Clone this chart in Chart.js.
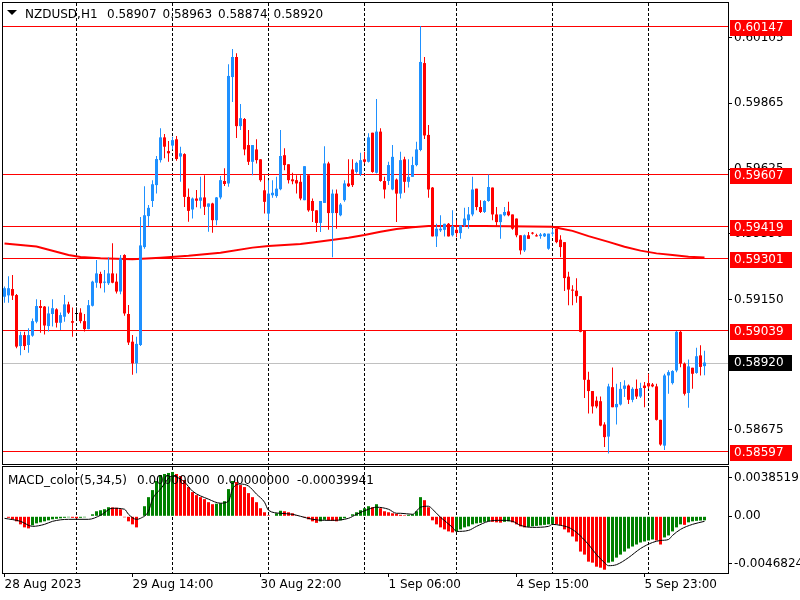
<!DOCTYPE html>
<html lang="en">
<head>
<meta charset="utf-8" />
<title>NZDUSD,H1</title>
<script src="https://cdn.jsdelivr.net/npm/chart.js@4.4.0/dist/chart.umd.min.js"></script>
<style>
    body { margin: 0; background: #fff; }
    #wrap { position: relative; width: 800px; height: 600px; overflow: hidden; }
    canvas { position: absolute; left: 0; }
    #chart-price { top: 0; }
    #chart-macd { top: 465px; }
</style>
</head>
<body>
<div id="wrap">
    <canvas id="chart-price" width="800" height="465"></canvas>
    <canvas id="chart-macd" width="800" height="135"></canvas>
</div>
<script>
// ---- data (H1 bars, 28 Aug 06:00 .. 6 Sep 13:00) ----
const symbol = 'NZDUSD,H1';

const opens = [
    0.59160, 0.59165, 0.59188, 0.59166, 0.58980, 0.59020, 0.58984, 0.59018, 0.59069, 0.59126,
    0.59124, 0.59053, 0.59097, 0.59114, 0.59065, 0.59087, 0.59132, 0.59071, 0.59097, 0.59102,
    0.59071, 0.59042, 0.59127, 0.59211, 0.59243, 0.59211, 0.59209, 0.59245, 0.59215, 0.59179,
    0.59312, 0.59097, 0.58996, 0.58917, 0.58984, 0.59341, 0.59454, 0.59509, 0.59567, 0.59658,
    0.59741, 0.59691, 0.59711, 0.59734, 0.59671, 0.59680, 0.59524, 0.59478, 0.59518, 0.59510,
    0.59522, 0.59488, 0.59500, 0.59439, 0.59522, 0.59582, 0.59573, 0.59961, 0.60034, 0.59782,
    0.59808, 0.59713, 0.59652, 0.59697, 0.59661, 0.59548, 0.59463, 0.59530, 0.59527, 0.59552,
    0.59676, 0.59643, 0.59588, 0.59585, 0.59579, 0.59512, 0.59603, 0.59509, 0.59475, 0.59429,
    0.59502, 0.59646, 0.59465, 0.59536, 0.59457, 0.59512, 0.59573, 0.59624, 0.59615, 0.59607,
    0.59661, 0.59652, 0.59758, 0.59612, 0.59762, 0.59582, 0.59582, 0.59551, 0.59587, 0.59536,
    0.59661, 0.59579, 0.59597, 0.59640, 0.59695, 0.60012, 0.59750, 0.59558, 0.59380, 0.59402,
    0.59404, 0.59426, 0.59384, 0.59404, 0.59392, 0.59420, 0.59439, 0.59460, 0.59554, 0.59487,
    0.59469, 0.59509, 0.59558, 0.59460, 0.59432, 0.59457, 0.59471, 0.59460, 0.59445, 0.59384,
    0.59329, 0.59384, 0.59392, 0.59384, 0.59381, 0.59380, 0.59335, 0.59390, 0.59408, 0.59368,
    0.59359, 0.59233, 0.59186, 0.59182, 0.59162, 0.59036, 0.58857, 0.58816, 0.58781, 0.58779,
    0.58694, 0.58650, 0.58830, 0.58757, 0.58767, 0.58824, 0.58836, 0.58784, 0.58824, 0.58796,
    0.58836, 0.58845, 0.58840, 0.58833, 0.58711, 0.58617, 0.58873, 0.58845, 0.58891, 0.59032,
    0.58916, 0.58809, 0.58901, 0.58882, 0.58946, 0.58907
];
const highs = [
    0.59197, 0.59235, 0.59239, 0.59170, 0.59032, 0.59032, 0.59045, 0.59081, 0.59151, 0.59148,
    0.59126, 0.59124, 0.59151, 0.59118, 0.59102, 0.59166, 0.59142, 0.59121, 0.59121, 0.59118,
    0.59097, 0.59148, 0.59218, 0.59294, 0.59251, 0.59257, 0.59304, 0.59355, 0.59245, 0.59312,
    0.59315, 0.59130, 0.59020, 0.59014, 0.59451, 0.59563, 0.59494, 0.59585, 0.59673, 0.59774,
    0.59753, 0.59728, 0.59743, 0.59746, 0.59707, 0.59683, 0.59555, 0.59522, 0.59549, 0.59597,
    0.59603, 0.59500, 0.59503, 0.59524, 0.59600, 0.59628, 0.60008, 0.60063, 0.60048, 0.59863,
    0.59812, 0.59768, 0.59713, 0.59734, 0.59661, 0.59603, 0.59585, 0.59585, 0.59597, 0.59768,
    0.59701, 0.59643, 0.59612, 0.59603, 0.59603, 0.59636, 0.59603, 0.59518, 0.59475, 0.59509,
    0.59709, 0.59652, 0.59551, 0.59551, 0.59502, 0.59585, 0.59661, 0.59661, 0.59652, 0.59685,
    0.59689, 0.59756, 0.59758, 0.59881, 0.59774, 0.59597, 0.59652, 0.59713, 0.59591, 0.59689,
    0.59670, 0.59661, 0.59670, 0.59725, 0.60147, 0.60034, 0.59786, 0.59560, 0.59426, 0.59457,
    0.59426, 0.59429, 0.59475, 0.59439, 0.59420, 0.59484, 0.59487, 0.59597, 0.59554, 0.59512,
    0.59512, 0.59606, 0.59558, 0.59487, 0.59460, 0.59487, 0.59506, 0.59460, 0.59445, 0.59384,
    0.59387, 0.59396, 0.59396, 0.59390, 0.59392, 0.59392, 0.59390, 0.59408, 0.59408, 0.59384,
    0.59359, 0.59251, 0.59202, 0.59227, 0.59162, 0.59036, 0.58886, 0.58816, 0.58796, 0.58796,
    0.58702, 0.58843, 0.58902, 0.58843, 0.58849, 0.58855, 0.58840, 0.58830, 0.58858, 0.58846,
    0.58849, 0.58879, 0.58845, 0.58843, 0.58711, 0.58879, 0.58892, 0.58892, 0.59035, 0.59035,
    0.58920, 0.58931, 0.58901, 0.58974, 0.58983, 0.58963
];
const lows = [
    0.59138, 0.59138, 0.59148, 0.58972, 0.58947, 0.58966, 0.58956, 0.59014, 0.59063, 0.59029,
    0.59022, 0.59033, 0.59051, 0.59048, 0.59039, 0.59069, 0.59097, 0.59014, 0.59073, 0.59063,
    0.59033, 0.59041, 0.59124, 0.59193, 0.59191, 0.59175, 0.59203, 0.59209, 0.59172, 0.59169,
    0.59091, 0.58984, 0.58875, 0.58881, 0.58980, 0.59335, 0.59417, 0.59487, 0.59536, 0.59649,
    0.59665, 0.59652, 0.59697, 0.59656, 0.59579, 0.59487, 0.59433, 0.59445, 0.59486, 0.59482,
    0.59458, 0.59397, 0.59393, 0.59421, 0.59515, 0.59564, 0.59561, 0.59870, 0.59739, 0.59768,
    0.59676, 0.59640, 0.59603, 0.59646, 0.59579, 0.59463, 0.59439, 0.59521, 0.59521, 0.59548,
    0.59621, 0.59573, 0.59570, 0.59536, 0.59512, 0.59512, 0.59470, 0.59432, 0.59396, 0.59396,
    0.59502, 0.59404, 0.59304, 0.59408, 0.59453, 0.59506, 0.59560, 0.59560, 0.59609, 0.59600,
    0.59646, 0.59649, 0.59612, 0.59609, 0.59579, 0.59518, 0.59567, 0.59548, 0.59432, 0.59518,
    0.59539, 0.59558, 0.59597, 0.59636, 0.59690, 0.59735, 0.59521, 0.59380, 0.59341, 0.59396,
    0.59380, 0.59380, 0.59380, 0.59377, 0.59371, 0.59414, 0.59408, 0.59453, 0.59475, 0.59465,
    0.59465, 0.59506, 0.59439, 0.59414, 0.59371, 0.59453, 0.59453, 0.59404, 0.59377, 0.59314,
    0.59323, 0.59371, 0.59387, 0.59380, 0.59371, 0.59378, 0.59331, 0.59380, 0.59355, 0.59304,
    0.59181, 0.59129, 0.59129, 0.59138, 0.59030, 0.58791, 0.58734, 0.58734, 0.58753, 0.58688,
    0.58612, 0.58588, 0.58757, 0.58694, 0.58763, 0.58794, 0.58769, 0.58775, 0.58787, 0.58791,
    0.58757, 0.58824, 0.58830, 0.58709, 0.58617, 0.58601, 0.58806, 0.58840, 0.58885, 0.58903,
    0.58800, 0.58755, 0.58824, 0.58879, 0.58873, 0.58874
];
const closes = [
    0.59191, 0.59191, 0.59164, 0.58978, 0.59020, 0.58980, 0.59020, 0.59071, 0.59126, 0.59119,
    0.59055, 0.59099, 0.59118, 0.59065, 0.59093, 0.59132, 0.59102, 0.59065, 0.59097, 0.59071,
    0.59042, 0.59129, 0.59215, 0.59245, 0.59209, 0.59215, 0.59245, 0.59211, 0.59179, 0.59300,
    0.59099, 0.58993, 0.58917, 0.58988, 0.59347, 0.59457, 0.59484, 0.59570, 0.59662, 0.59741,
    0.59707, 0.59683, 0.59731, 0.59662, 0.59683, 0.59524, 0.59473, 0.59518, 0.59510, 0.59522,
    0.59488, 0.59500, 0.59439, 0.59522, 0.59585, 0.59571, 0.59965, 0.60034, 0.59782, 0.59811,
    0.59697, 0.59652, 0.59713, 0.59658, 0.59585, 0.59506, 0.59536, 0.59539, 0.59554, 0.59673,
    0.59640, 0.59585, 0.59581, 0.59573, 0.59518, 0.59636, 0.59475, 0.59473, 0.59429, 0.59509,
    0.59646, 0.59465, 0.59536, 0.59465, 0.59496, 0.59573, 0.59563, 0.59567, 0.59648, 0.59658,
    0.59652, 0.59741, 0.59615, 0.59762, 0.59582, 0.59551, 0.59640, 0.59670, 0.59536, 0.59658,
    0.59579, 0.59597, 0.59640, 0.59697, 0.60016, 0.59748, 0.59551, 0.59380, 0.59408, 0.59408,
    0.59426, 0.59380, 0.59417, 0.59392, 0.59420, 0.59445, 0.59460, 0.59551, 0.59487, 0.59469,
    0.59509, 0.59560, 0.59460, 0.59432, 0.59460, 0.59469, 0.59457, 0.59408, 0.59384, 0.59329,
    0.59384, 0.59371, 0.59390, 0.59380, 0.59387, 0.59390, 0.59390, 0.59392, 0.59359, 0.59341,
    0.59228, 0.59186, 0.59182, 0.59162, 0.59032, 0.58857, 0.58816, 0.58760, 0.58760, 0.58690,
    0.58648, 0.58833, 0.58757, 0.58769, 0.58824, 0.58836, 0.58784, 0.58824, 0.58796, 0.58827,
    0.58827, 0.58833, 0.58833, 0.58711, 0.58621, 0.58873, 0.58885, 0.58889, 0.59032, 0.58916,
    0.58806, 0.58906, 0.58879, 0.58943, 0.58904, 0.58920
];

// moving average, read at a few bars
const maIdx = [0, 8, 16, 19, 24, 32, 39, 46, 54, 62, 66, 74, 77, 86, 90, 94, 98, 102, 106, 120, 137, 139, 142, 146, 151, 155, 159, 163, 167, 171, 175];
const maVal = [0.59354, 0.59343, 0.59312, 0.59305, 0.59300, 0.59297, 0.59302, 0.59309, 0.59320, 0.59339, 0.59345, 0.59352, 0.59358, 0.59375, 0.59385, 0.59397, 0.59407, 0.59413, 0.59418, 0.59418, 0.59415, 0.59409, 0.59400, 0.59381, 0.59360, 0.59342, 0.59328, 0.59318, 0.59312, 0.59306, 0.59303];

// horizontal levels and axis ticks
const levels = [0.60147, 0.59607, 0.59419, 0.59301, 0.59039, 0.58597];
const priceTicks = [0.60105, 0.59865, 0.59625, 0.59390, 0.59150, 0.58910, 0.58675];

// MACD_color(5,34,5)
const macdHist = [
    -0.00005, -0.00015, -0.0003, -0.0005, -0.0008, -0.0011, -0.0012, -0.0009, -0.0007, -0.0006,
    -0.0005, -0.0004, -0.0003, -0.00025, -0.0002, -0.00015, -0.0001, -0.00015, -0.0002, -0.00015,
    -0.0001, 0, 0.0002, 0.0005, 0.0006, 0.0007, 0.0009, 0.00088, 0.00085, 0.0007,
    -0.0001, -0.0005, -0.0008, -0.0011, 0, 0.001, 0.0019, 0.0026, 0.0035, 0.0041,
    0.0042, 0.0043, 0.0044, 0.0042, 0.004, 0.0036, 0.0029, 0.0024, 0.0021, 0.0019,
    0.0017, 0.0014, 0.0012, 0.00125, 0.0013, 0.0015, 0.0027, 0.0035, 0.0034, 0.0031,
    0.0029, 0.0023, 0.0019, 0.0014, 0.0008, 0.0004, 0.0001, 0.00005, 0.0003, 0.00055,
    0.0005, 0.0004, 0.0003, 0.0001, 0, -0.0001, -0.0003, -0.0005, -0.00065, -0.0005,
    -0.00035, -0.0004, -0.00045, -0.0005, -0.0004, -0.0002, 0, 0.0002, 0.0004, 0.0006,
    0.0008, 0.001, 0.0009, 0.0012, 0.0008, 0.0005, 0.0004, 0.0003, 0.00025, 0.00015,
    0.0001, 0.00015, 0.0002, 0.0005, 0.0019, 0.0016, 0.0009, -0.0004, -0.0008, -0.0011,
    -0.0013, -0.0015, -0.0016, -0.0015, -0.0013, -0.0011, -0.001, -0.0008, -0.0007, -0.00065,
    -0.00055, -0.0005, -0.00055, -0.0006, -0.00063, -0.00055, -0.0005, -0.0006, -0.0008, -0.001,
    -0.0011, -0.00105, -0.001, -0.00095, -0.0009, -0.00085, -0.0008, -0.00075, -0.0008, -0.0009,
    -0.0013, -0.0016, -0.002, -0.0025, -0.0035, -0.0038, -0.0045, -0.0046, -0.005, -0.0051,
    -0.0053, -0.0046, -0.0045, -0.0041, -0.0038, -0.0035, -0.0032, -0.003, -0.0028, -0.0026,
    -0.0025, -0.0024, -0.0023, -0.0024, -0.0028, -0.0021, -0.0019, -0.0015, -0.0011, -0.0008,
    -0.00085, -0.0006, -0.0005, -0.00045, -0.00042, -0.00039941
];
const sigIdx = [0, 4, 7, 10, 12, 16, 21, 24, 27, 30, 31, 33, 34, 36, 37, 39, 42, 43, 45, 47, 51, 54, 56, 57, 59, 61, 63, 65, 66, 69, 72, 74, 77, 80, 82, 86, 88, 91, 93, 96, 98, 99, 102, 104, 106, 107, 109, 112, 113, 116, 118, 121, 124, 127, 129, 132, 136, 137, 139, 141, 143, 146, 148, 150, 151, 153, 156, 159, 162, 164, 166, 167, 169, 172, 175];
const sigVal = [-0.0002, -0.0005, -0.001, -0.0008, -0.0005, -0.0003, -0.0003, 0.0001, 0.0008, 0.0007, 0.0002, -0.0003, -0.0002, 0.0005, 0.0017, 0.0027, 0.004, 0.0039, 0.0034, 0.0025, 0.0017, 0.0013, 0.0015, 0.0027, 0.0032, 0.003, 0.0022, 0.0014, 0.0006, 0.0003, 0.0002, 0, -0.0003, -0.0004, -0.0004, -0.0002, 0.0002, 0.0007, 0.0009, 0.0007, 0.0003, 0.0003, 0.0002, 0.0009, 0.001, 0.0007, -0.0001, -0.0011, -0.0015, -0.0014, -0.001, -0.0005, -0.0004, -0.0005, -0.0009, -0.0011, -0.001, -0.0008, -0.0009, -0.0011, -0.0016, -0.0028, -0.0038, -0.0046, -0.0049, -0.0048, -0.0041, -0.0032, -0.0026, -0.0024, -0.0023, -0.0019, -0.0013, -0.0008, -0.0005];
const macdTicks = [0.0038519, 0, -0.0046824];
const macdTickLabels = ['0.0038519', '0.00', '-0.0046824'];

// time axis
const timeIdx = [0, 32, 64, 96, 128, 160];
const timeLabels = ['28 Aug 2023', '29 Aug 14:00', '30 Aug 22:00', '1 Sep 06:00', '4 Sep 15:00', '5 Sep 23:00'];
const dayIdx = [18, 42, 66, 90, 113, 137, 161];

// ---- drawing ----
Chart.defaults.font.family = '"DejaVu Sans", sans-serif';
Chart.defaults.font.size = 12;
Chart.defaults.color = '#000';

const UP = '#1E90FF', DOWN = '#FF0000';
const last = closes.length - 1;
const candleColors = opens.map((o, i) => closes[i] > o ? UP : (closes[i] < o ? DOWN : '#000000'));
const histColors = macdHist.map((v, i) => i > 0 && v > macdHist[i - 1] ? '#008000' : '#FF0000');

const X_MIN = -0.375, X_MAX = 180.875;

const drawDaySeparators = (chart) => {
    const { ctx, chartArea: a, scales: { x } } = chart;
    ctx.save();
    ctx.strokeStyle = '#000';
    ctx.lineWidth = 1;
    ctx.setLineDash([3, 2]);
    dayIdx.forEach(i => {
        const px = Math.floor(x.getPixelForValue(i)) + 0.5;
        ctx.beginPath();
        ctx.moveTo(px, a.top);
        ctx.lineTo(px, a.bottom);
        ctx.stroke();
    });
    ctx.restore();
};

const drawFrame = (chart) => {
    const { ctx, chartArea: a } = chart;
    ctx.save();
    ctx.strokeStyle = '#000';
    ctx.lineWidth = 1;
    ctx.strokeRect(a.left - 0.5, a.top - 0.5, a.right - a.left + 1, a.bottom - a.top + 1);
    ctx.restore();
};

// text pieces placed the way the terminal spaces them
const drawPieces = (ctx, pieces, xs, y) => {
    pieces.forEach((t, k) => ctx.fillText(t, xs[k], y));
};

const priceOverlay = {
    id: 'priceOverlay',
    beforeDatasetsDraw(chart) {
        const { ctx, chartArea: a, scales: { y } } = chart;
        drawDaySeparators(chart);
        ctx.save();
        ctx.lineWidth = 1;
        ctx.strokeStyle = '#C0C0C0';
        let py = Math.round(y.getPixelForValue(closes[last])) + 0.5;
        ctx.beginPath(); ctx.moveTo(a.left, py); ctx.lineTo(a.right, py); ctx.stroke();
        ctx.strokeStyle = '#FF0000';
        levels.forEach(v => {
            py = Math.round(y.getPixelForValue(v)) + 0.5;
            ctx.beginPath(); ctx.moveTo(a.left, py); ctx.lineTo(a.right, py); ctx.stroke();
        });
        ctx.restore();
    },
    afterDraw(chart) {
        const { ctx, scales: { y } } = chart;
        drawFrame(chart);
        ctx.save();
        ctx.font = '12px "DejaVu Sans"';
        ctx.textBaseline = 'middle';
        ctx.textAlign = 'left';
        levels.forEach(v => {
            const py = Math.round(y.getPixelForValue(v));
            ctx.fillStyle = '#FF0000';
            ctx.fillRect(730, py - 6, 62, 16);
            ctx.fillStyle = '#fff';
            ctx.fillText(v.toFixed(5), 734, py + 2);
        });
        const pb = Math.round(y.getPixelForValue(closes[last]));
        ctx.fillStyle = '#000';
        ctx.fillRect(729, pb - 8, 63, 16);
        ctx.fillStyle = '#fff';
        ctx.fillText(closes[last].toFixed(5), 734, pb);

        // header
        ctx.fillStyle = '#000';
        ctx.beginPath();
        ctx.moveTo(7, 10); ctx.lineTo(17, 10); ctx.lineTo(12, 15); ctx.closePath();
        ctx.fill();
        ctx.textBaseline = 'alphabetic';
        const ohlc = [opens[last], highs[last], lows[last], closes[last]].map(v => v.toFixed(5));
        drawPieces(ctx, [symbol, ...ohlc], [25, 107, 162.5, 218, 273.5], 18);
        ctx.restore();
    }
};

const macdOverlay = {
    id: 'macdOverlay',
    beforeDatasetsDraw(chart) {
        drawDaySeparators(chart);
    },
    afterDraw(chart) {
        const { ctx } = chart;
        drawFrame(chart);
        ctx.save();
        ctx.font = '12px "DejaVu Sans"';
        ctx.fillStyle = '#000';
        ctx.textBaseline = 'alphabetic';
        drawPieces(ctx, ['MACD_color(5,34,5)', '0.00000000', '0.00000000', macdHist[last].toFixed(8)], [8, 137, 217, 297], 19);
        ctx.restore();
    }
};

const rightAxis = (min, max, tickVals, fmt) => ({
    position: 'right',
    min: min,
    max: max,
    afterFit: s => { s.width = 72; s.paddingTop = 0; s.paddingBottom = 0; },
    afterBuildTicks: s => { s.ticks = tickVals.map(v => ({ value: v })); },
    ticks: { callback: fmt, padding: 2, autoSkip: false },
    grid: { drawOnChartArea: false, tickLength: 4, tickColor: '#000', color: '#000' },
    border: { color: '#000' }
});

new Chart(document.getElementById('chart-price'), {
    type: 'bar',
    data: {
        datasets: [
            {
                type: 'line',
                label: 'MA',
                data: maIdx.map((v, k) => ({ x: v, y: maVal[k] })),
                borderColor: '#FF0000',
                borderWidth: 2,
                pointRadius: 0,
                order: 3
            },
            {
                label: 'wick',
                data: opens.map((o, i) => ({ x: i, y: [lows[i], highs[i]] })),
                backgroundColor: candleColors,
                barThickness: 1,
                grouped: false,
                inflateAmount: 0,
                order: 2
            },
            {
                label: 'body',
                data: opens.map((o, i) => ({ x: i, y: [o, closes[i]] })),
                backgroundColor: candleColors,
                barThickness: 3,
                minBarLength: 1,
                grouped: false,
                inflateAmount: 0,
                order: 1
            }
        ]
    },
    options: {
        responsive: false,
        animation: false,
        events: [],
        layout: { padding: { left: 3, top: 3, right: 0, bottom: 1 } },
        plugins: { legend: { display: false }, tooltip: { enabled: false } },
        scales: {
            x: { type: 'linear', min: X_MIN, max: X_MAX, display: false, offset: false, grid: { offset: false } },
            y: rightAxis(0.58550, 0.60231, priceTicks, v => v.toFixed(5))
        }
    },
    plugins: [priceOverlay]
});

new Chart(document.getElementById('chart-macd'), {
    type: 'bar',
    data: {
        datasets: [
            {
                type: 'line',
                label: 'signal',
                data: sigIdx.map((v, k) => ({ x: v, y: sigVal[k] })),
                borderColor: '#000',
                borderWidth: 1,
                pointRadius: 0,
                cubicInterpolationMode: 'monotone',
                order: 1
            },
            {
                label: 'macd',
                data: macdHist.map((v, i) => ({ x: i, y: v })),
                backgroundColor: histColors,
                barThickness: 3,
                grouped: false,
                inflateAmount: 0,
                order: 2
            }
        ]
    },
    options: {
        responsive: false,
        animation: false,
        events: [],
        layout: { padding: { left: 3, top: 2, right: 0, bottom: 0 } },
        plugins: { legend: { display: false }, tooltip: { enabled: false } },
        scales: {
            x: {
                type: 'linear',
                min: X_MIN,
                max: X_MAX,
                offset: false,
                afterFit: s => { s.height = 27; s.paddingLeft = 0; s.paddingRight = 0; },
                afterBuildTicks: s => { s.ticks = timeIdx.map(v => ({ value: v })); },
                ticks: { callback: (v, i) => timeLabels[i], align: 'start', autoSkip: false, maxRotation: 0, minRotation: 0, padding: 1 },
                grid: { drawOnChartArea: false, offset: false, tickLength: 4, tickColor: '#000', color: '#000' },
                border: { color: '#000' }
            },
            y: rightAxis(-0.005627, 0.004892, macdTicks, (v, i) => macdTickLabels[i])
        }
    },
    plugins: [macdOverlay]
});
</script>
</body>
</html>
